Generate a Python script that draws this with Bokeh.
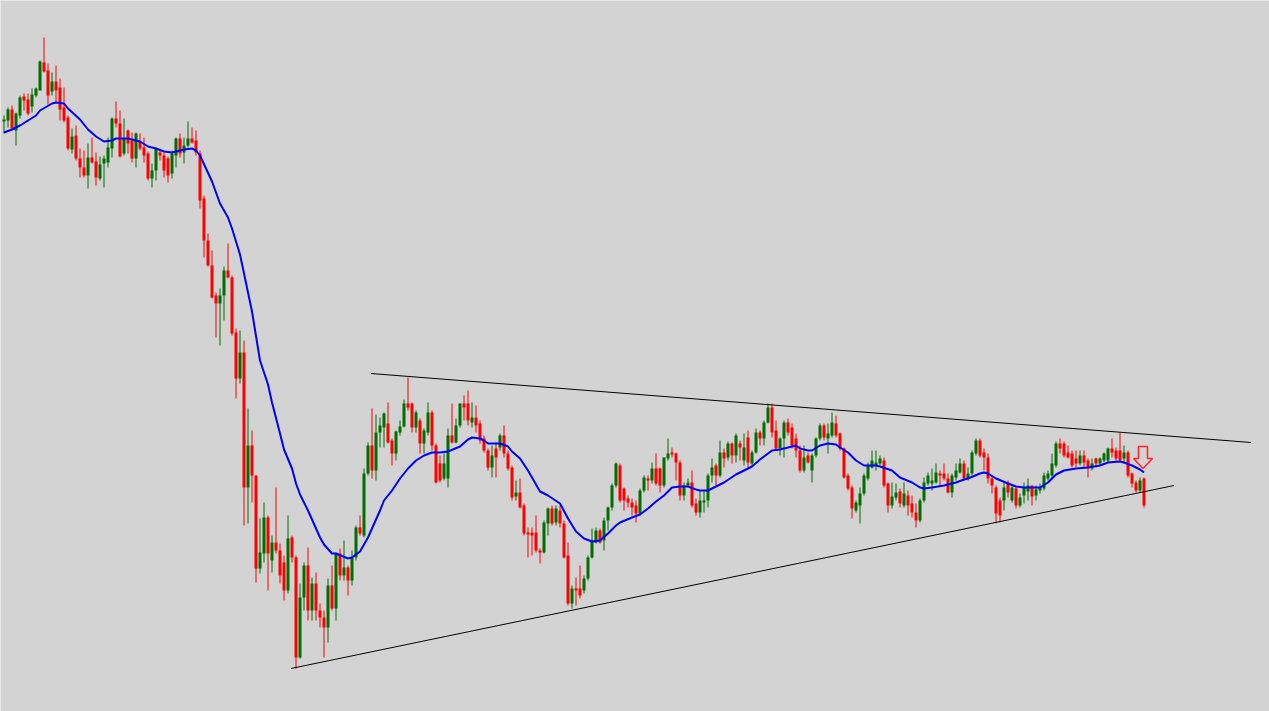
from bokeh.plotting import figure
from bokeh.models import Range1d, ColumnDataSource
from bokeh.embed import file_html
from bokeh.resources import INLINE

# ---- data (bar number, OHLC prices) ----
opens = [679,680,691,670,685,704,701,694,705,710,738,730,709,719,713,693,683,651,665,642,
         633,625,643,639,622,637,638,652,682,677,647,670,660,642,659,653,647,622,630,648,
         645,642,627,645,662,648,655,662,660,647,602,560,535,505,497,505,530,523,468,422,
         448,313,355,325,232,247,283,240,258,250,238,210,263,243,143,203,235,190,217,190,
         183,173,215,192,247,225,233,220,243,273,265,327,355,330,368,373,377,360,347,368,
         374,397,397,373,380,357,368,388,355,337,322,322,365,358,375,397,397,378,383,377,
         362,350,333,352,353,365,347,333,304,308,295,268,268,268,250,248,277,292,278,290,
         277,245,197,212,212,210,222,243,258,270,260,280,293,315,335,312,302,298,295,287,
         310,322,320,332,332,315,342,348,347,338,305,315,318,297,288,298,300,325,335,325,
         348,343,357,345,357,340,363,337,348,368,362,378,393,370,352,362,378,373,362,350,
         330,345,330,345,362,375,362,365,377,367,352,325,313,290,295,307,322,333,335,337,
         340,317,295,303,309,295,305,297,288,280,300,317,317,318,327,327,322,308,323,328,
         337,322,327,347,360,348,343,322,313,300,300,318,300,312,295,305,309,315,305,310,
         312,322,325,335,357,357,348,347,342,337,345,340,332,342,337,340,340,352,350,350,
         342,348,327,318,310,322]
closes = [681,691,672,687,703,700,687,706,712,739,729,705,719,710,691,680,652,664,642,633,
          625,643,638,623,636,642,653,682,677,644,662,657,642,667,652,645,622,630,652,645,
          630,625,647,662,647,655,662,658,648,600,560,535,503,497,505,530,523,467,422,448,
          313,355,325,232,248,283,247,258,250,225,210,262,243,143,203,235,190,217,190,183,
          173,215,192,247,225,233,220,243,273,267,327,355,330,368,375,387,358,347,369,374,
          397,393,373,388,357,370,388,355,318,320,337,365,358,375,397,393,380,383,375,360,
          350,333,345,343,365,347,332,303,308,293,267,266,265,250,248,278,292,277,292,277,
          243,197,212,210,205,222,243,260,270,258,280,293,315,337,300,300,298,293,287,310,
          323,320,332,317,315,343,347,346,338,305,315,318,295,288,300,300,325,333,325,348,
          342,357,345,365,353,353,338,348,368,362,378,393,368,352,362,378,368,355,350,330,
          343,338,345,362,375,363,367,378,365,352,323,312,292,298,307,325,335,340,338,342,
          315,295,304,308,297,307,295,288,280,300,318,325,320,328,325,322,308,325,330,337,
          322,327,348,360,345,343,322,315,287,285,313,308,313,295,303,313,315,304,311,313,
          325,327,337,357,352,345,343,335,337,345,338,332,337,337,342,347,352,348,342,340,
          348,325,317,310,320,295]
highs = [685,693,695,688,705,707,707,712,713,740,763,737,728,735,722,713,685,672,675,652,
         650,657,663,648,644,645,663,683,699,690,682,671,668,668,667,663,649,637,653,650,
         648,644,650,663,667,663,679,673,670,650,605,567,550,508,512,534,557,525,472,470,
         460,392,370,325,282,298,285,265,313,257,245,285,265,245,217,238,253,223,228,197,
         190,222,235,248,252,260,235,250,275,285,332,358,392,386,383,388,398,362,370,380,
         401,423,398,390,382,372,398,390,357,345,347,372,397,382,397,405,410,398,395,380,
         365,352,355,358,367,375,350,335,320,322,297,273,273,285,252,280,293,295,295,295,
         280,258,215,223,235,225,245,272,273,272,283,294,317,338,337,313,305,302,300,312,
         325,325,338,347,333,343,362,353,348,340,318,322,330,302,310,310,327,342,337,360,
         352,359,358,367,360,367,370,350,372,370,380,397,397,380,363,380,382,377,367,355,
         355,348,347,363,377,377,377,388,385,368,353,327,315,300,313,327,338,350,350,345,
         343,318,318,317,312,318,310,305,297,302,323,328,332,337,330,337,327,327,337,342,
         340,333,350,362,362,352,347,325,315,303,318,320,315,313,307,318,322,315,315,317,
         328,330,347,359,362,359,355,350,350,350,350,342,342,343,343,348,353,362,353,368,
         355,350,328,320,323,323]
lows = [667,673,670,655,682,690,685,688,703,710,728,696,705,698,680,678,650,647,640,623,
        623,612,637,615,620,613,633,643,673,643,645,647,638,633,650,638,620,613,620,640,
        623,618,622,633,643,637,653,657,645,592,543,534,502,463,455,480,522,465,402,417,
        275,277,298,218,227,238,210,228,247,217,200,207,238,132,142,190,180,180,180,173,
        143,158,190,180,220,220,205,215,240,265,263,325,322,320,353,353,357,335,340,365,
        373,390,368,368,347,347,365,350,317,318,320,313,357,357,373,380,375,373,368,357,
        348,330,323,323,350,343,330,300,300,292,265,243,245,248,237,247,265,275,275,273,
        242,195,192,195,202,207,220,242,257,257,250,270,290,313,298,290,293,285,278,285,
        308,310,317,315,308,313,340,343,320,300,300,313,293,285,283,288,293,318,315,323,
        333,340,337,338,340,335,333,335,347,355,355,377,363,350,345,343,365,352,343,328,
        328,337,318,343,360,360,347,363,363,350,322,310,282,288,277,305,320,332,330,335,
        313,288,292,300,293,293,285,283,273,278,298,315,310,317,315,320,307,303,320,327,
        320,320,325,345,343,330,317,307,277,278,290,303,298,292,293,297,300,295,300,307,
        310,320,323,333,347,343,342,333,333,335,333,323,330,333,335,338,338,343,338,340,
        337,323,313,308,308,293]

# moving average, read at these bar numbers
ma_bars = [0,2,4,8,9,12,13,15,16,19,21,23,25,27,28,31,34,36,38,40,42,45,47,48,49,52,54,56,57,59,
           60,62,64,66,67,69,70,72,73,74,76,79,80,82,83,86,87,89,91,92,94,95,97,99,101,103,105,107,
           109,111,114,116,117,119,120,121,124,126,127,129,131,132,134,136,139,141,143,145,147,149,151,153,154,157,159,161,163,165,
           167,169,171,173,174,176,178,180,183,185,187,189,192,194,196,198,199,201,202,204,206,208,209,211,213,215,218,219,222,224,
           227,229,230,232,235,238,240,241,244,245,246,248,251,253,255,259,261,263,265,268,271,274,276,279,280,282,284,285]
ma_vals = [668,671,675,685,690,697,698,697,692,681,671,664,659,660,662,662,659,654,652,649,648,651,652,650,645,619,597,583,572,546,
           527,489,440,416,398,367,351,332,317,306,290,263,256,247,247,242,243,249,263,272,290,300,310,322,332,340,345,348,
           348,349,354,361,363,362,360,357,357,354,349,342,330,323,309,305,297,282,269,262,259,260,267,275,278,283,286,292,299,305,
           313,314,314,311,310,310,314,318,326,330,334,341,350,351,353,355,352,350,350,355,357,356,353,348,340,335,335,334,330,323,
           318,313,312,313,315,318,321,322,327,328,327,322,317,314,313,313,318,326,330,332,333,335,338,339,338,335,331,328]

# trendlines: (bar, price) end points
upper_bars = [91.75, 311.75]
upper_prices = [427, 358]
lower_bars = [71.75, 292.5]
lower_prices = [132, 315]

# sell signal arrow: tip position (bar, price) and size
arrow_bar = 284.75
arrow_tip = 332
arrow_top = 354
arrow_head = 342
arrow_stem_half = 1.125
arrow_head_half = 2.375

BG = "#d3d3d3"
UP = "#006e00"
DOWN = "#ff0000"

n = len(opens)
bars = list(range(n))
is_up = [c >= o for o, c in zip(opens, closes)]
src = ColumnDataSource(dict(
    x=bars,
    top=[max(o, c) for o, c in zip(opens, closes)],
    bottom=[min(o, c) for o, c in zip(opens, closes)],
    high=highs, low=lows,
    color=[UP if u else DOWN for u in is_up],
))

p = figure(width=1269, height=711, output_backend="svg", toolbar_location=None,
           x_axis_location=None, y_axis_location=None, min_border=0,
           x_range=Range1d(-0.875, 316.375), y_range=Range1d(89, 800),
           background_fill_color=BG, border_fill_color=BG, outline_line_color=None)
p.grid.visible = False

p.segment(x0="x", y0="high", x1="x", y1="low", color="color", line_width=1, source=src)
p.vbar(x="x", top="top", bottom="bottom", width=0.75, fill_color="color",
       line_color=None, source=src)

p.line(ma_bars, ma_vals, line_color="#0000ff", line_width=2)

p.line(upper_bars, upper_prices, line_color="black", line_width=1)
p.line(lower_bars, lower_prices, line_color="black", line_width=1)

ax = [arrow_bar - arrow_stem_half, arrow_bar + arrow_stem_half, arrow_bar + arrow_stem_half,
      arrow_bar + arrow_head_half, arrow_bar, arrow_bar - arrow_head_half,
      arrow_bar - arrow_stem_half]
ay = [arrow_top, arrow_top, arrow_head, arrow_head, arrow_tip, arrow_head, arrow_head]
p.patch(ax, ay, fill_alpha=0, line_color="#ff2a2a", line_width=1.6)

open("out.html", "w").write(file_html(p, INLINE))
